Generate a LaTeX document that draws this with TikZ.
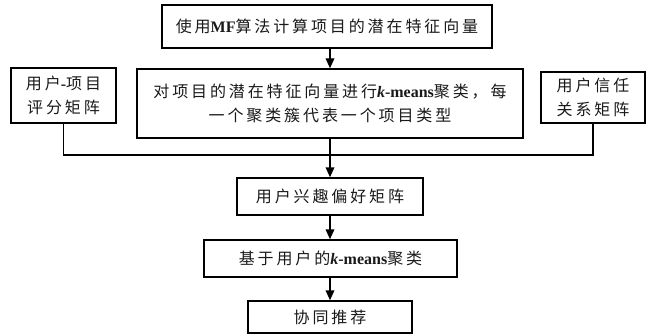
\documentclass[tikz,border=0pt]{standalone}
\usepackage{fontspec}
\setmainfont{Liberation Serif}
\newfontfamily\cjkf[LetterSpace=18]{Noto Sans CJK SC}
\usetikzlibrary{arrows.meta}
\newcommand\lat[1]{{\rmfamily\bfseries #1}}
\newcommand\kk{{\rmfamily\bfseries\itshape k}}
\tikzset{
  box/.style={draw, line width=1.1pt, inner sep=0pt, align=center,
    font=\fontsize{12pt}{17.8pt}\cjkf, text=black!90},
  conn/.style={line width=1.1pt},
  arr/.style={conn, -{Triangle[length=7.5pt,width=6.5pt]}}
}
\begin{document}
\begin{tikzpicture}[x=0.75pt,y=-0.75pt]
\useasboundingbox (0,0) rectangle (648,335);
\node[box, minimum width=247.5pt, minimum height=32.25pt] (top) at (327,26.5) {使用\lat{MF}算法计算项目的潜在特征向量};
\node[box, minimum width=289.5pt, minimum height=51.75pt] (mid) at (330,103.5) {对项目的潜在特征向量进行\kk\lat{-means}聚类，每\\一个聚类簇代表一个项目类型};
\node[box, minimum width=78.75pt, minimum height=41.25pt] (left) at (63.5,95.5) {用户\lat{-}项目\\评分矩阵};
\node[box, minimum width=78pt, minimum height=38.25pt] (right) at (593,97.5) {用户信任\\关系矩阵};
\node[box, minimum width=139.5pt, minimum height=27.75pt] (pref) at (330,196.5) {用户兴趣偏好矩阵};
\node[box, minimum width=189.75pt, minimum height=27.75pt] (km) at (330.5,258.5) {基于用户的\kk\lat{-means}聚类};
\node[box, minimum width=123pt, minimum height=24pt] (cf) at (330,317) {协同推荐};
\coordinate (j) at (330,155);
\draw[arr] (top.south -| mid.north) -- (mid.north);
\draw[conn] (left.south) |- (j) -| (right.south);
\draw[arr] (mid.south) -- (pref.north);
\draw[arr] (pref.south) -- (pref.south |- km.north);
\draw[arr] (km.south -| cf.north) -- (cf.north);
\end{tikzpicture}
\end{document}
